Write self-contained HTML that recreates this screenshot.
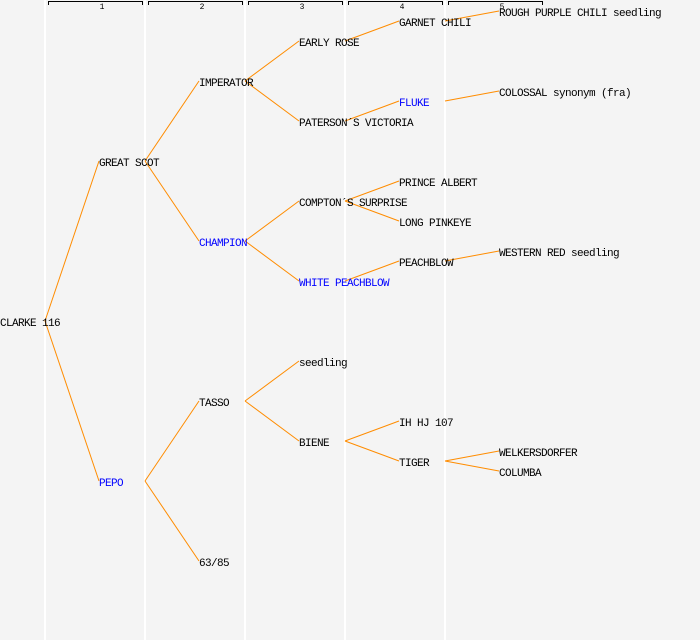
<!DOCTYPE html>
<html><head><meta charset="utf-8"><style>
html,body{margin:0;padding:0;background:#f4f4f4;}
svg{display:block;}
text{font-family:"Liberation Mono","DejaVu Sans Mono",monospace;font-size:11px;letter-spacing:-0.6px;}
</style></head><body>
<svg width="700" height="640" xmlns="http://www.w3.org/2000/svg">
<rect width="700" height="640" fill="#f4f4f4"/>
<g stroke="#ffffff" stroke-width="2">
<line x1="45" y1="0" x2="45" y2="640"/><line x1="145" y1="0" x2="145" y2="640"/>
<line x1="245" y1="0" x2="245" y2="640"/><line x1="345" y1="0" x2="345" y2="640"/>
<line x1="445" y1="0" x2="445" y2="640"/>
</g>
<g stroke="#000" stroke-width="1" fill="none">
<path d="M48.5,5V1.5H142.5V5"/><path d="M148.5,5V1.5H242.5V5"/><path d="M248.5,5V1.5H342.5V5"/><path d="M348.5,5V1.5H442.5V5"/><path d="M448.5,5V1.5H542.5V5"/>
</g>
<g text-anchor="middle">
<text x="102" y="9" style="font-size:8px;letter-spacing:0">1</text><text x="202" y="9" style="font-size:8px;letter-spacing:0">2</text><text x="302" y="9" style="font-size:8px;letter-spacing:0">3</text><text x="402" y="9" style="font-size:8px;letter-spacing:0">4</text><text x="502" y="9" style="font-size:8px;letter-spacing:0">5</text>
</g>
<g stroke="#ff8c00" stroke-width="1" fill="none">
<line x1="45" y1="321" x2="99" y2="161"/><line x1="45" y1="321" x2="99" y2="481"/>
<line x1="145" y1="161" x2="199" y2="81"/><line x1="145" y1="161" x2="199" y2="241"/>
<line x1="145" y1="481" x2="199" y2="401"/><line x1="145" y1="481" x2="199" y2="561"/>
<line x1="245" y1="81" x2="299" y2="41"/><line x1="245" y1="81" x2="299" y2="121"/>
<line x1="245" y1="241" x2="299" y2="201"/><line x1="245" y1="241" x2="299" y2="281"/>
<line x1="245" y1="401" x2="299" y2="361"/><line x1="245" y1="401" x2="299" y2="441"/>
<line x1="345" y1="41" x2="399" y2="21"/><line x1="345" y1="121" x2="399" y2="101"/>
<line x1="345" y1="201" x2="399" y2="181"/><line x1="345" y1="201" x2="399" y2="221"/>
<line x1="345" y1="281" x2="399" y2="261"/>
<line x1="345" y1="441" x2="399" y2="421"/><line x1="345" y1="441" x2="399" y2="461"/>
<line x1="445" y1="21" x2="499" y2="11"/><line x1="445" y1="101" x2="499" y2="91"/>
<line x1="445" y1="261" x2="499" y2="251"/>
<line x1="445" y1="461" x2="499" y2="451"/><line x1="445" y1="461" x2="499" y2="471"/>
</g>
<g fill="#000">
<text x="0" y="326">CLARKE 116</text>
<text x="99" y="166">GREAT SCOT</text>
<text x="99" y="486" fill="#0000ff">PEPO</text>
<text x="199" y="86">IMPERATOR</text>
<text x="199" y="246" fill="#0000ff">CHAMPION</text>
<text x="199" y="406">TASSO</text>
<text x="199" y="566">63/85</text>
<text x="299" y="46">EARLY ROSE</text>
<text x="299" y="126">PATERSON´S VICTORIA</text>
<text x="299" y="206">COMPTON´S SURPRISE</text>
<text x="299" y="286" fill="#0000ff">WHITE PEACHBLOW</text>
<text x="299" y="366">seedling</text>
<text x="299" y="446">BIENE</text>
<text x="399" y="26">GARNET CHILI</text>
<text x="399" y="106" fill="#0000ff">FLUKE</text>
<text x="399" y="186">PRINCE ALBERT</text>
<text x="399" y="226">LONG PINKEYE</text>
<text x="399" y="266">PEACHBLOW</text>
<text x="399" y="426">IH HJ 107</text>
<text x="399" y="466">TIGER</text>
<text x="499" y="16">ROUGH PURPLE CHILI seedling</text>
<text x="499" y="96">COLOSSAL synonym (fra)</text>
<text x="499" y="256">WESTERN RED seedling</text>
<text x="499" y="456">WELKERSDORFER</text>
<text x="499" y="476">COLUMBA</text>
</g>
</svg>
</body></html>
